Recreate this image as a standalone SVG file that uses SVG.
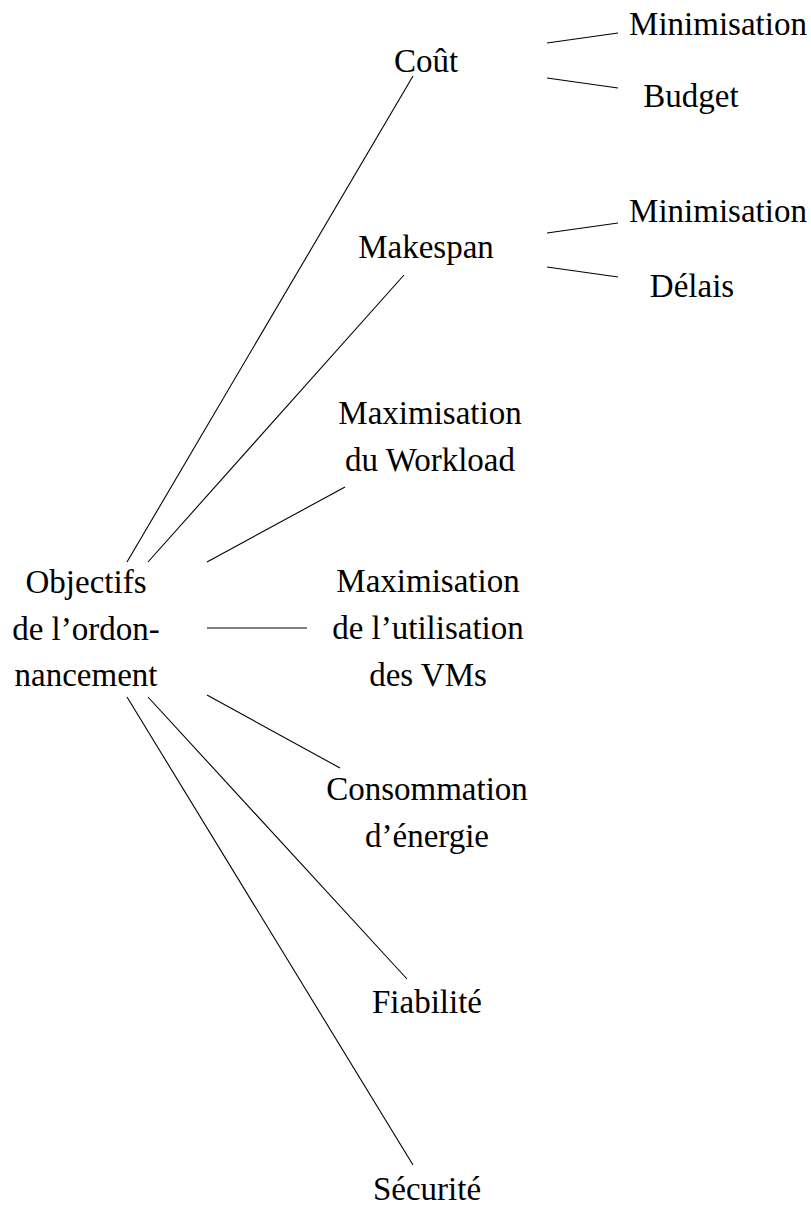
<svg xmlns="http://www.w3.org/2000/svg" width="811" height="1211" viewBox="0 0 811 1211">
  <style>
    text { font-family: "Liberation Serif", "DejaVu Serif", serif; font-size: 33px; fill: #000; text-anchor: middle; }
    .edge { stroke: #000; stroke-width: 1.1; fill: none; }
  </style>
  <rect width="811" height="1211" fill="#fff"/>

  <!-- connectors -->
  <g id="edges" class="edge">
    <line x1="127" y1="562" x2="413" y2="76"/>
    <line x1="148" y1="562" x2="404" y2="275"/>
    <line x1="207" y1="562" x2="345" y2="487"/>
    <line x1="207" y1="628" x2="307" y2="628"/>
    <line x1="207" y1="695" x2="340" y2="768"/>
    <line x1="148" y1="697" x2="407" y2="979"/>
    <line x1="127" y1="697" x2="413" y2="1165"/>
    <line x1="547" y1="43" x2="618" y2="33"/>
    <line x1="547" y1="78" x2="618" y2="88"/>
    <line x1="547" y1="233" x2="618" y2="223"/>
    <line x1="547" y1="267" x2="618" y2="277"/>
  </g>

  <!-- root -->
  <g id="root">
    <text x="86" y="593">Objectifs</text>
    <text x="86" y="640">de l’ordon-</text>
    <text x="86" y="686">nancement</text>
  </g>

  <!-- first-level objectives -->
  <g id="cout"><text x="426" y="72">Coût</text></g>
  <g id="makespan"><text x="426" y="258">Makespan</text></g>
  <g id="workload">
    <text x="430" y="424">Maximisation</text>
    <text x="430" y="471">du Workload</text>
  </g>
  <g id="vms">
    <text x="428" y="592">Maximisation</text>
    <text x="428" y="639">de l’utilisation</text>
    <text x="428" y="686">des VMs</text>
  </g>
  <g id="energie">
    <text x="427" y="800">Consommation</text>
    <text x="427" y="847">d’énergie</text>
  </g>
  <g id="fiabilite"><text x="427" y="1013">Fiabilité</text></g>
  <g id="securite"><text x="427" y="1200">Sécurité</text></g>

  <!-- second-level objectives -->
  <g id="cout-min"><text x="718" y="35">Minimisation</text></g>
  <g id="cout-budget"><text x="691" y="107">Budget</text></g>
  <g id="makespan-min"><text x="718" y="222">Minimisation</text></g>
  <g id="makespan-delais"><text x="692" y="297">Délais</text></g>
</svg>
